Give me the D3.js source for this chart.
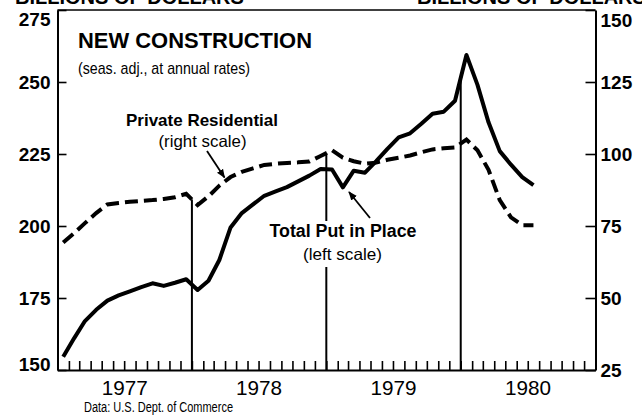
<!DOCTYPE html>
<html lang="en">

<head>
    <meta charset="utf-8">
    <title>New construction</title>
    <script src="https://d3js.org/d3.v7.min.js"></script>
    <style>
        body { margin: 0; background: #fff; }
        svg { display: block; font-family: "Liberation Sans", Arial, sans-serif; }
    </style>
</head>

<body>
    <div id="svgcontainer"></div>
    <script type="text/javascript">
        // monthly observations, Jan 1977 .. Jul 1980
        var months = [
            "1977-01", "1977-02", "1977-03", "1977-04", "1977-05", "1977-06", "1977-07", "1977-08", "1977-09", "1977-10", "1977-11", "1977-12",
            "1978-01", "1978-02", "1978-03", "1978-04", "1978-05", "1978-06", "1978-07", "1978-08", "1978-09", "1978-10", "1978-11", "1978-12",
            "1979-01", "1979-02", "1979-03", "1979-04", "1979-05", "1979-06", "1979-07", "1979-08", "1979-09", "1979-10", "1979-11", "1979-12",
            "1980-01", "1980-02", "1980-03", "1980-04", "1980-05", "1980-06", "1980-07"];
        // total put in place, billions of dollars (left scale)
        var totalPutInPlace = [
            154.6, 161.0, 167.0, 170.9, 174.1, 175.9, 177.3, 178.8, 180.1, 179.2, 180.3, 181.5,
            177.8, 181.0, 188.2, 199.5, 204.5, 207.5, 210.5, 212.0, 213.5, 215.5, 217.5, 219.8,
            219.6, 213.4, 219.2, 218.5, 222.5, 226.8, 230.8, 232.2, 235.5, 239.0, 239.7, 243.5,
            259.4, 249.0, 236.0, 226.0, 221.3, 217.0, 214.2];
        // private residential, billions of dollars (right scale)
        var privateResidential = [
            69.3, 72.5, 76.0, 79.5, 82.5, 83.0, 83.4, 83.7, 84.0, 84.4, 85.0, 86.2,
            82.3, 85.3, 89.0, 92.0, 93.8, 95.0, 96.2, 96.6, 96.9, 97.1, 97.4, 99.3,
            101.3, 98.7, 97.5, 96.6, 97.0, 98.0, 98.7, 99.5, 100.6, 101.6, 102.0, 102.3,
            105.0, 101.3, 94.5, 84.0, 78.0, 75.3, 75.3];
        var years = ["1977", "1978", "1979", "1980"];
        var leftTicks = [150, 175, 200, 225, 250, 275];
        var rightTicks = [25, 50, 75, 100, 125, 150];

        var w = 642, h = 416;
        var margin = { top: 10, right: 46.5, bottom: 46, left: 57.5 };
        var x0 = margin.left, x1 = w - margin.right, yTop = margin.top, yBot = h - margin.bottom;

        var parseMonth = d3.timeParse("%Y-%m");
        // points sit in the middle of each month
        function midMonth(s) {
            var d = parseMonth(s);
            return new Date(d.getTime() + (d3.timeMonth.offset(d, 1) - d) / 2);
        }
        var total = months.map((m, i) => ({ date: midMonth(m), value: totalPutInPlace[i] }));
        var resid = months.map((m, i) => ({ date: midMonth(m), value: privateResidential[i] }));

        var start = new Date(+years[0], 0, 1), end = new Date(+years[years.length - 1] + 1, 0, 1);
        var x = d3.scaleTime().domain([start, end]).range([x0, x1]);
        var yLeft = d3.scaleLinear().domain([leftTicks[0], leftTicks[leftTicks.length - 1]]).range([yBot, yTop]);
        var yRight = d3.scaleLinear().domain([rightTicks[0], rightTicks[rightTicks.length - 1]]).range([yBot, yTop]);

        var svg = d3.select("#svgcontainer")
            .append("svg")
            .attr("width", w)
            .attr("height", h);

        // header units, cut off by the top of the picture
        svg.append("text").attr("x", 15).attr("y", 4)
            .attr("font-size", 20).attr("font-weight", "bold").text("BILLIONS OF DOLLARS");
        svg.append("text").attr("x", 417).attr("y", 4)
            .attr("font-size", 20).attr("font-weight", "bold").text("BILLIONS OF DOLLARS");

        // top frame line
        svg.append("line")
            .attr("x1", x0).attr("x2", x1).attr("y1", yTop).attr("y2", yTop)
            .attr("stroke", "#000").attr("stroke-width", 1.5);

        // left axis
        var axL = svg.append("g")
            .attr("transform", `translate(${x0},0)`)
            .call(d3.axisLeft(yLeft).tickValues(leftTicks).tickSize(-9).tickSizeOuter(0).tickPadding(7));
        // right axis
        var axR = svg.append("g")
            .attr("transform", `translate(${x1},0)`)
            .call(d3.axisRight(yRight).tickValues(rightTicks).tickSize(-10).tickSizeOuter(0).tickPadding(5));
        // bottom axis, one tick per month
        var axB = svg.append("g")
            .attr("transform", `translate(0,${yBot})`)
            .call(d3.axisBottom(x).ticks(d3.timeMonth.every(1)).tickSize(-9).tickSizeOuter(0).tickFormat(""));

        [axL, axR, axB].forEach(function (g) {
            g.select(".domain").attr("stroke-width", 2);
            g.selectAll(".tick line").attr("stroke-width", 1.6);
            g.selectAll(".tick text")
                .attr("font-family", "Liberation Sans, Arial, sans-serif")
                .attr("font-size", 19)
                .attr("font-weight", "bold")
                .attr("fill", "#000");
        });
        // end labels are pulled inside the frame
        axL.selectAll(".tick text").attr("y", d => d == leftTicks[0] ? -6 : (d == leftTicks[leftTicks.length - 1] ? 9 : 0));
        axR.selectAll(".tick text").attr("y", d => d == rightTicks[rightTicks.length - 1] ? 10 : 0);

        // year labels
        svg.append("g").selectAll("text")
            .data(years)
            .join("text")
            .attr("x", d => (x(new Date(+d, 0, 1)) + x(new Date(+d + 1, 0, 1))) / 2)
            .attr("y", 395)
            .attr("text-anchor", "middle")
            .attr("font-size", 21)
            .attr("textLength", 46)
            .attr("lengthAdjust", "spacingAndGlyphs")
            .text(d => d);

        // value of a series at any date, by linear interpolation
        function yAt(series, scale, date) {
            var i = d3.bisector(d => d.date).left(series, date);
            if (i <= 0) return scale(series[0].value);
            if (i >= series.length) return scale(series[series.length - 1].value);
            var a = series[i - 1], b = series[i];
            var t = (date - a.date) / (b.date - a.date);
            return scale(a.value + t * (b.value - a.value));
        }

        // drop lines at each new year, up to the highest curve
        svg.append("g").selectAll("line")
            .data(years.slice(1))
            .join("line")
            .attr("x1", d => x(new Date(+d, 0, 1)))
            .attr("x2", d => x(new Date(+d, 0, 1)))
            .attr("y1", yBot)
            .attr("y2", d => {
                var dt = new Date(+d, 0, 1);
                return Math.min(yAt(total, yLeft, dt), yAt(resid, yRight, dt));
            })
            .attr("stroke", "#000")
            .attr("stroke-width", 2);

        // series
        svg.append("path")
            .datum(resid)
            .attr("fill", "none")
            .attr("stroke", "#000")
            .attr("stroke-width", 4)
            .attr("stroke-dasharray", "13,6")
            .attr("d", d3.line().x(d => x(d.date)).y(d => yRight(d.value)));
        svg.append("path")
            .datum(total)
            .attr("fill", "none")
            .attr("stroke", "#000")
            .attr("stroke-width", 4)
            .attr("stroke-linejoin", "round")
            .attr("d", d3.line().x(d => x(d.date)).y(d => yLeft(d.value)));

        // title
        svg.append("text").attr("x", 78).attr("y", 48)
            .attr("font-size", 21.5).attr("font-weight", "bold")
            .attr("textLength", 234).attr("lengthAdjust", "spacingAndGlyphs")
            .text("NEW CONSTRUCTION");
        svg.append("text").attr("x", 78).attr("y", 74)
            .attr("font-size", 17).attr("textLength", 172).attr("lengthAdjust", "spacingAndGlyphs")
            .text("(seas. adj., at annual rates)");

        // arrow head
        svg.append("defs").append("marker")
            .attr("id", "head")
            .attr("viewBox", "0 0 10 10")
            .attr("refX", 9).attr("refY", 5)
            .attr("markerWidth", 9).attr("markerHeight", 9)
            .attr("markerUnits", "userSpaceOnUse")
            .attr("orient", "auto")
            .append("path")
            .attr("d", "M0,1L10,5L0,9Z")
            .attr("fill", "#000");

        // private residential label
        svg.append("text").attr("x", 202).attr("y", 125.5).attr("text-anchor", "middle")
            .attr("font-size", 17).attr("font-weight", "bold")
            .attr("textLength", 152).attr("lengthAdjust", "spacingAndGlyphs")
            .text("Private Residential");
        svg.append("text").attr("x", 202.5).attr("y", 146.5).attr("text-anchor", "middle")
            .attr("font-size", 16.5).attr("textLength", 88).attr("lengthAdjust", "spacingAndGlyphs")
            .text("(right scale)");
        svg.append("line")
            .attr("x1", 207).attr("y1", 151).attr("x2", 224.5).attr("y2", 177.5)
            .attr("stroke", "#000").attr("stroke-width", 1.8)
            .attr("marker-end", "url(#head)");

        // total put in place label, knocked out of the drop line
        svg.append("rect").attr("x", 266).attr("y", 221).attr("width", 154).attr("height", 46).attr("fill", "#fff");
        svg.append("text").attr("x", 343).attr("y", 237).attr("text-anchor", "middle")
            .attr("font-size", 17.5).attr("font-weight", "bold")
            .attr("textLength", 147).attr("lengthAdjust", "spacingAndGlyphs")
            .text("Total Put in Place");
        svg.append("text").attr("x", 342.5).attr("y", 260).attr("text-anchor", "middle")
            .attr("font-size", 16.5).attr("textLength", 79).attr("lengthAdjust", "spacingAndGlyphs")
            .text("(left scale)");
        svg.append("line")
            .attr("x1", 370).attr("y1", 218).attr("x2", 349).attr("y2", 192)
            .attr("stroke", "#000").attr("stroke-width", 1.8)
            .attr("marker-end", "url(#head)");

        // source
        svg.append("text").attr("x", 84).attr("y", 412)
            .attr("font-size", 15.5).attr("textLength", 149).attr("lengthAdjust", "spacingAndGlyphs")
            .text("Data: U.S. Dept. of Commerce");
    </script>
</body>

</html>
